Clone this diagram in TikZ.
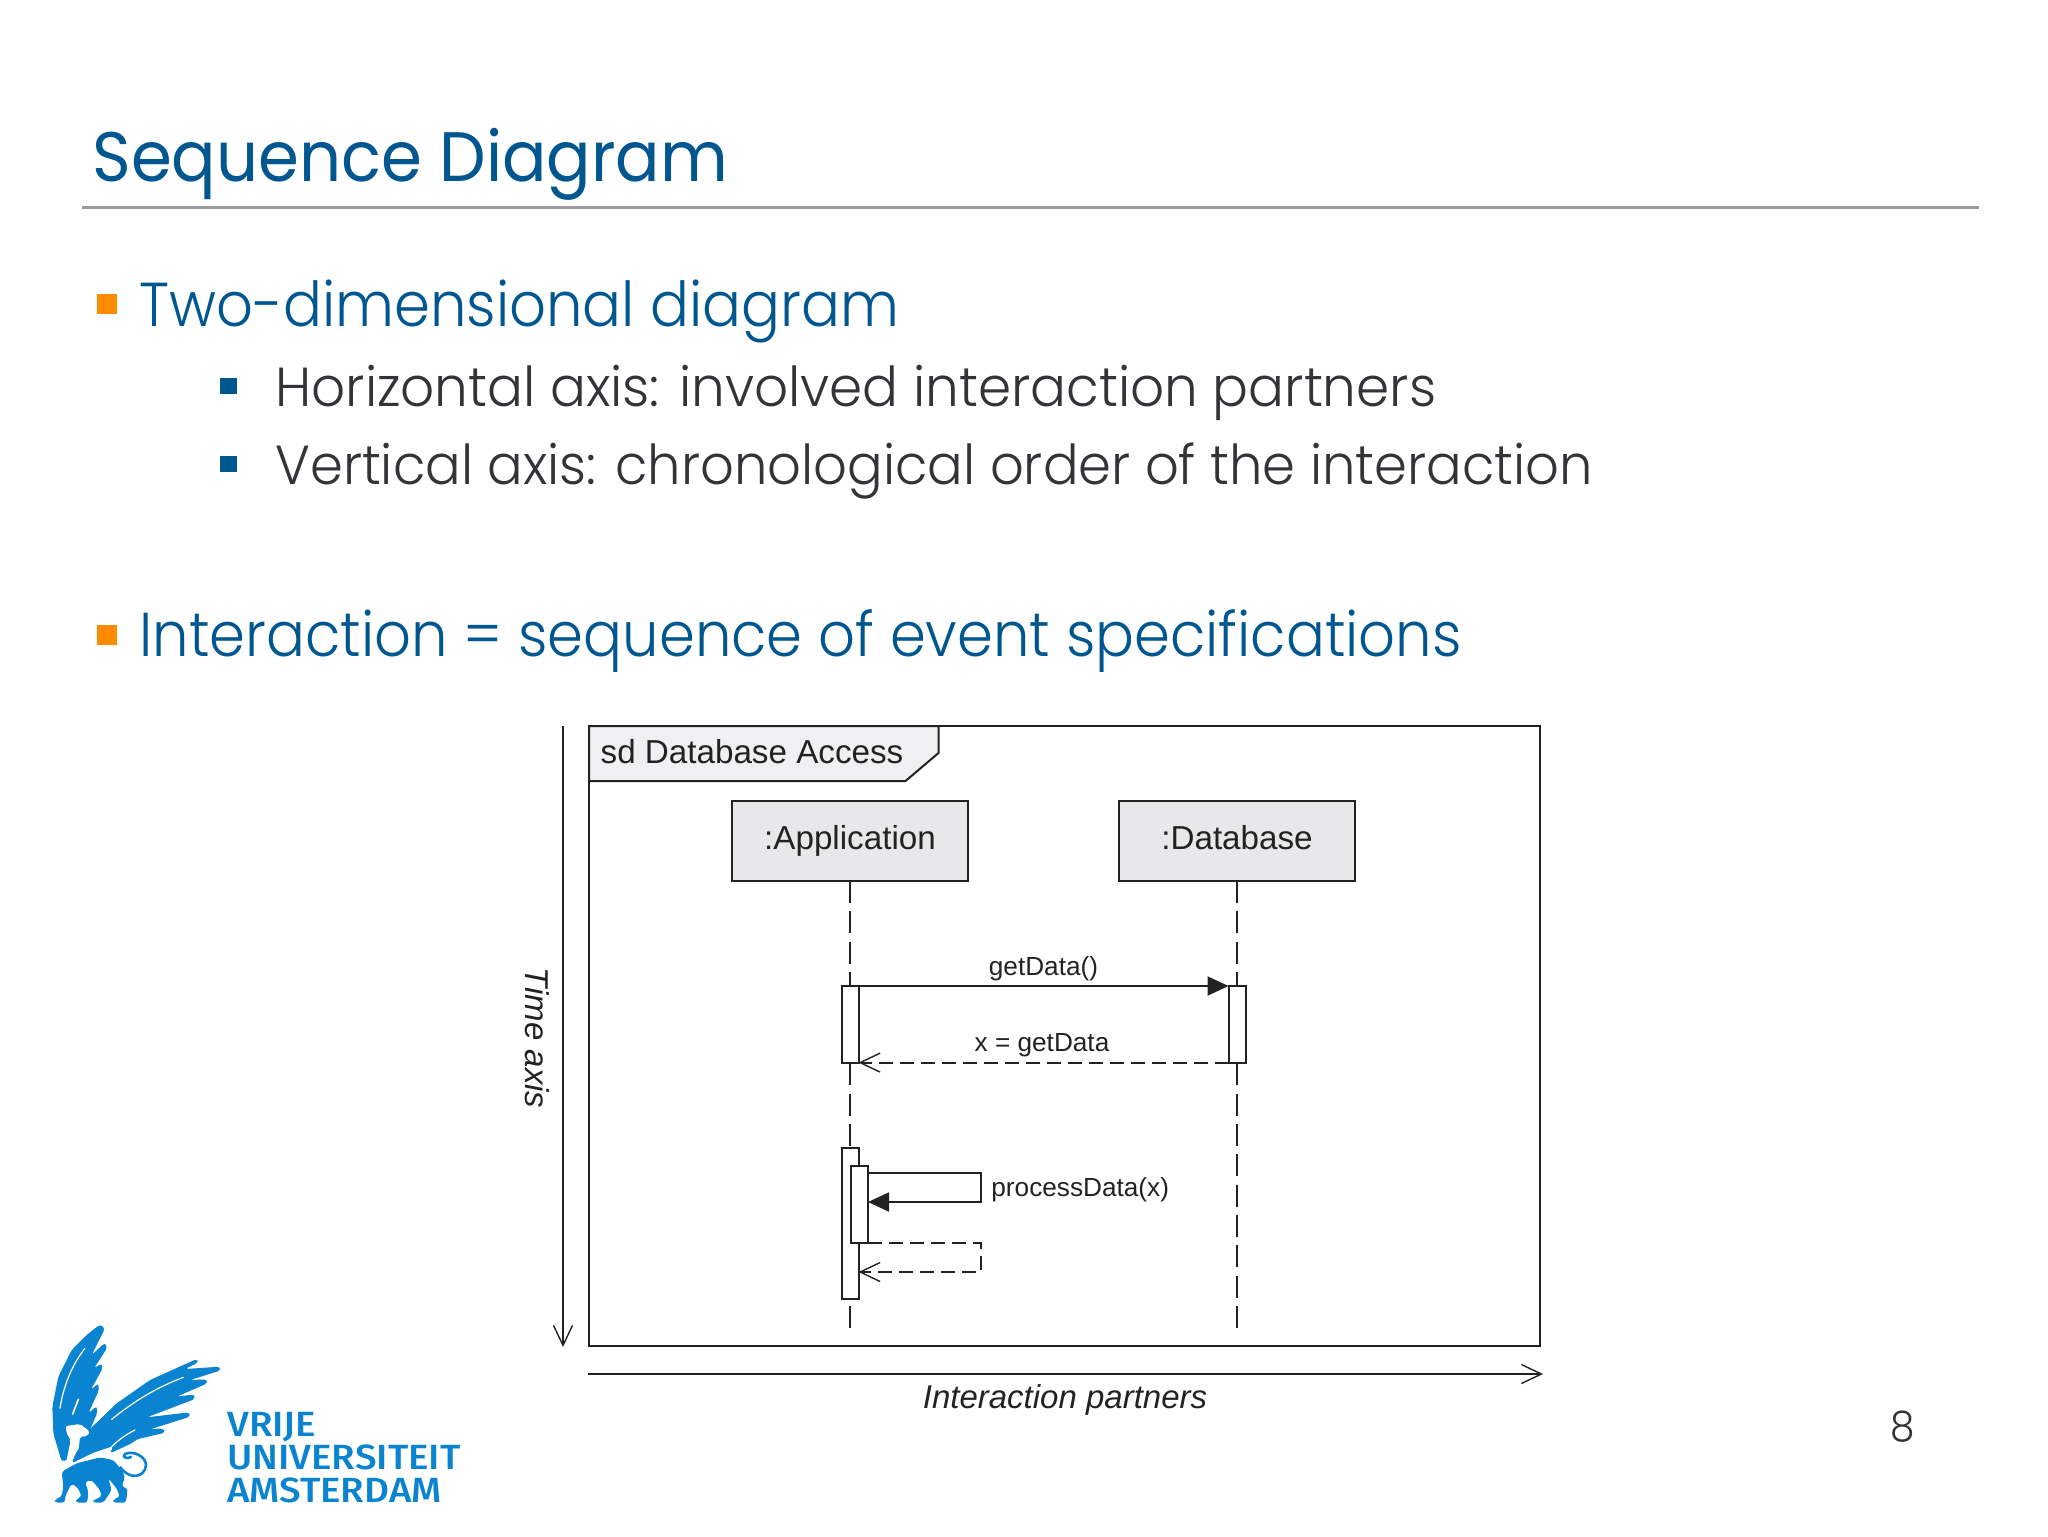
\documentclass[tikz,border=0pt]{standalone}
\usepackage{fontspec}
\usetikzlibrary{arrows.meta}
\setmainfont{Liberation Sans}
\newfontfamily\slidefont{Poppins}[FakeStretch=0.94]
\newfontfamily\slidelight{Poppins Light}[FakeStretch=0.93]
\newfontfamily\slidesub{Poppins Light}[FakeStretch=0.96]
\newfontfamily\slidesubwide{Poppins Light}[FakeStretch=0.968]
\newfontfamily\logofont{Fira Sans}[UprightFont=* Medium,FakeStretch=1.1]
\definecolor{vu blue}{HTML}{00568F}
\definecolor{vu logo}{HTML}{0A84D0}
\definecolor{vu orange}{HTML}{FF8A00}
\definecolor{body text}{HTML}{333338}
\definecolor{rule gray}{HTML}{9A9AA0}
\definecolor{box gray}{HTML}{E8E8EA}
\definecolor{tag gray}{HTML}{F0F0F2}
\definecolor{line dark}{HTML}{222222}

\def\griffinleftwing{(185,485) -- (160,400) -- (157,320) -- (175,230) -- (215,150) -- (260,105) -- (300,73) -- (315,85) -- (305,105) -- (275,165) -- (315,128) -- (322,143) -- (282,205) -- (305,190) -- (308,205) -- (272,270) -- (295,250) -- (297,270) -- (265,340) -- (290,318) -- (293,335) -- (272,385) -- (240,440) -- (200,480) -- cycle}
\def\griffinrightwing{(272,385) -- (350,310) -- (450,240) -- (590,177) -- (595,187) -- (555,207) -- (660,200) -- (660,212) -- (570,240) -- (620,238) -- (622,250) -- (530,290) -- (582,283) -- (585,297) -- (440,352) -- (568,337) -- (570,350) -- (450,388) -- (490,385) -- (495,398) -- (410,418) -- (395,430) -- (330,460) -- (340,438) -- (280,458) -- (215,490) -- (240,430) -- cycle}
\def\griffinhead{(197,378) -- (240,372) -- (270,395) -- (262,408) -- (240,410) -- (236,450) -- (200,480) -- (212,420) -- (200,400) -- cycle}
\def\griffinlion{(185,515) -- (230,490) -- (300,472) -- (340,480) -- (365,510) -- (375,530) -- (365,560) -- (383,565) -- (378,608) -- (340,608) -- (340,598) -- (360,590) -- (350,565) -- (325,535) -- (335,570) -- (322,590) -- (310,608) -- (280,608) -- (280,600) -- (305,590) -- (300,570) -- (275,540) -- (255,545) -- (265,575) -- (262,608) -- (228,608) -- (228,598) -- (245,590) -- (235,565) -- (215,550) -- (195,590) -- (195,608) -- (165,608) -- (165,598) -- (185,590) -- (190,560) -- cycle}
\def\griffintail{(360,500) .. controls (385,540) and (435,535) .. (438,495) .. controls (438,470) and (400,450) .. (375,462) .. controls (365,470) and (380,480) .. (395,470)}
\def\griffinslitone{(180,325) .. controls (190,260) and (215,195) .. (255,145)}
\def\griffinslittwo{(218,342) -- (235,298)}
\def\griffinslitthree{(335,358) .. controls (400,305) and (470,262) .. (550,232)}
\def\griffinslitfour{(335,440) .. controls (355,420) and (380,402) .. (405,390)}

\tikzset{
    headline/.style={anchor=base west, inner sep=0pt, text=vu blue},
    firstitem/.style={anchor=base west, inner sep=0pt, text=vu blue, font=\slidelight\fontsize{31}{36}\selectfont},
    seconditem/.style={anchor=base west, inner sep=0pt, text=body text, font=\slidesub\fontsize{27.5}{32}\selectfont},
    firstbullet/.style={fill=vu orange, inner sep=0pt, minimum width=10pt, minimum height=10pt},
    secondbullet/.style={fill=vu blue, inner sep=0pt, minimum width=8.5pt, minimum height=8pt},
    seqframe/.style={draw=line dark, line width=1pt, inner sep=0pt, outer sep=0pt},
    participant/.style={draw=line dark, fill=box gray, line width=1pt, inner sep=0pt, outer sep=0pt,
        minimum width=118pt, minimum height=40pt, text height=12pt, text depth=3.4pt,
        text=line dark, font=\fontsize{16.6}{20}\selectfont},
    activation/.style={draw=line dark, fill=white, line width=1pt, inner sep=0pt, outer sep=0pt,
        minimum width=8.5pt},
    lifeline/.style={draw=line dark, line width=.85pt, dash pattern=on 11pt off 4.18pt},
    call/.style={draw=line dark, line width=1pt, -{Triangle[length=10.5pt,width=9.5pt]}},
    reply/.style={draw=line dark, line width=1pt, dash pattern=on 7pt off 3.5pt,
        -{Straight Barb[length=10pt,width=9.5pt,line width=.7pt]}},
    axis/.style={draw=line dark, line width=.85pt, -{Straight Barb[length=10pt,width=9.5pt,line width=.7pt]}},
    msglabel/.style={font=\fontsize{13.1}{16}\selectfont, text=line dark},
    axislabel/.style={font=\itshape\fontsize{16.5}{19}\selectfont, text=line dark},
    logotext/.style={anchor=base west, inner sep=0pt, text=vu logo, font=\logofont\fontsize{17.5}{20}\selectfont}
}

\begin{document}
\begin{tikzpicture}[x=0.5pt,y=-0.5pt]
    \useasboundingbox (0,0) rectangle (2048,1536);

    \node[headline, font=\slidefont\fontsize{35}{40}\selectfont] (title) at (92,181) {Sequence Diagram};
    \coordinate (rulestart) at (82,207);
    \coordinate (ruleend) at (1979,207);
    \draw[rule gray, line width=1.5pt] (rulestart) -- (ruleend);

    \node[firstbullet] (bulletone) at (107,304) {};
    \node[firstitem] (itemone) at (139,326) {Two-dimensional diagram};
    \node[secondbullet] (bullettwo) at (228,386) {};
    \node[seconditem, font=\slidesubwide\fontsize{27.5}{32}\selectfont] (itemtwo) at (275,406) {Horizontal axis: involved interaction partners};
    \node[secondbullet] (bulletthree) at (228,464) {};
    \node[seconditem] (itemthree) at (275,484) {Vertical axis: chronological order of the interaction};
    \node[firstbullet] (bulletfour) at (107,635) {};
    \node[firstitem] (itemfour) at (139,656) {Interaction = sequence of event specifications};

    % frame and its tag
    \node[seqframe, minimum width=475.5pt, minimum height=310pt] (frame) at (1064.5,1036) {};
    \coordinate (tagtop) at (938.5,726);
    \coordinate (tagnotch) at (938.5,753);
    \coordinate (tagfoot) at (905.5,781);
    \coordinate (tagleft) at (589,781);
    \draw[seqframe, fill=tag gray] (frame.north west) -- (tagtop) -- (tagnotch) -- (tagfoot) -- (tagleft) -- cycle;
    \node[font=\fontsize{16.6}{20}\selectfont, text=line dark] (tagtext) at (752,752) {sd Database Access};

    \node[participant] (application) at (850,841) {:Application};
    \node[participant] (database) at (1237,841) {:Database};

    \coordinate (append) at (850,1328);
    \coordinate (dbend) at (1237,1328);
    \draw[lifeline] (application) -- (append);
    \draw[lifeline] (database) -- (dbend);

    \node[activation, minimum height=38.3pt] (appbarone) at (850,1024.3) {};
    \node[activation, minimum height=38.3pt] (dbbarone) at (1237,1024.3) {};
    \draw[call] (appbarone.north east) -- (dbbarone.north west);
    \draw[reply] (dbbarone.south west) -- (appbarone.south east);
    \node[msglabel] (getdata) at (1043.5,968.5) {getData()};
    \node[msglabel] (xgetdata) at (1042,1045.5) {x = getData};

    \node[activation, minimum height=75.7pt] (appbartwo) at (850,1223.3) {};
    \node[activation, minimum height=38.5pt] (appbarthree) at (859.5,1204.5) {};
    \coordinate (selfout) at (appbarthree.east |- 0,1173);
    \coordinate (selfturn) at (981,1173);
    \coordinate (selfback) at (981,1202);
    \coordinate (selfin) at (appbarthree.east |- 0,1202);
    \draw[call] (selfout) -- (selfturn) -- (selfback) -- (selfin);
    \coordinate (retturn) at (981,1243);
    \coordinate (retback) at (981,1272);
    \coordinate (retin) at (appbartwo.east |- 0,1272);
    \draw[reply] (appbarthree.south east) -- (retturn) -- (retback) -- (retin);
    \node[msglabel, anchor=west, inner sep=0pt] (processdata) at (991,1189.5) {processData(x)};

    \coordinate (timestart) at (563,726);
    \coordinate (timeend) at (563,1347);
    \draw[axis] (timestart) -- (timeend);
    \node[axislabel, rotate=-90] (timeaxis) at (537,1038) {Time axis};
    \coordinate (partnerstart) at (588,1374);
    \coordinate (partnerend) at (1543,1374);
    \draw[axis] (partnerstart) -- (partnerend);
    \node[axislabel] (partners) at (1065,1400) {Interaction partners};

    \node[font=\slidelight\fontsize{21}{24}\selectfont, text=body text] (pagenumber) at (1903,1427) {8};

    \begin{scope}[shift={(0,1300)},x=0.16667pt,y=-0.16667pt]
        \fill[vu logo, rounded corners=1.5pt] \griffinleftwing;
        \fill[vu logo, rounded corners=1.5pt] \griffinrightwing;
        \fill[white, rounded corners=1pt] \griffinhead;
        \fill[vu logo, rounded corners=1.5pt] \griffinlion;
        \draw[vu logo, line width=1.3pt] \griffintail;
        \draw[white, line width=.6pt, line cap=round] \griffinslitone;
        \draw[white, line width=.8pt, line cap=round] \griffinslittwo;
        \draw[white, line width=.6pt, line cap=round] \griffinslitthree;
        \draw[white, line width=.6pt, line cap=round] \griffinslitfour;
    \end{scope}
    \node[logotext] (vrije) at (227,1436) {VRIJE};
    \node[logotext] (universiteit) at (227,1469) {UNIVERSITEIT};
    \node[logotext] (amsterdam) at (227,1502) {AMSTERDAM};
\end{tikzpicture}
\end{document}
